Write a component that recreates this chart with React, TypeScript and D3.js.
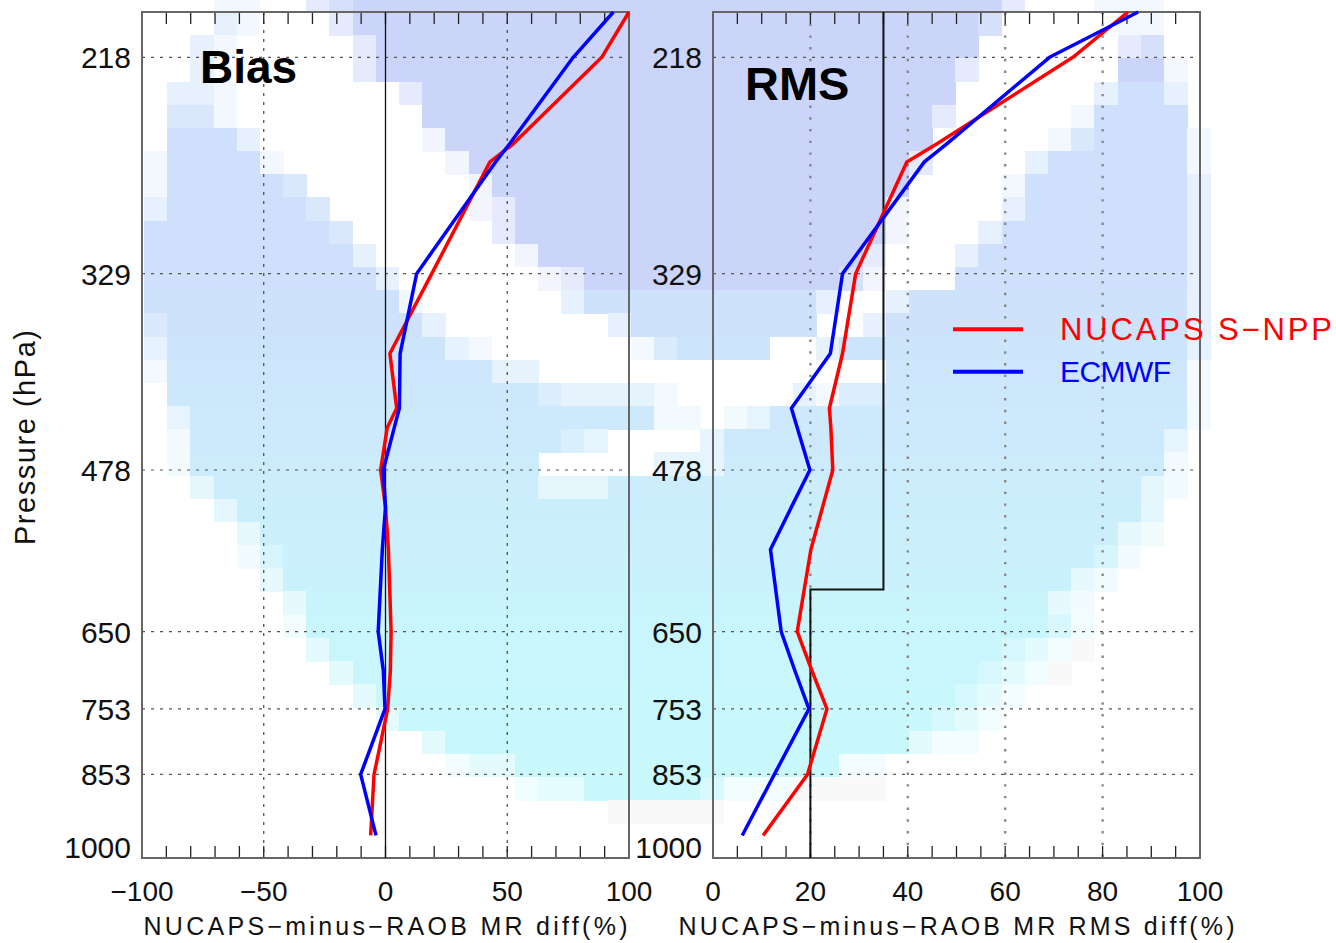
import * as d3 from "d3";

// pressure levels (hPa) at the profile vertices
const pressure = [200, 218, 257, 266, 329, 383, 425, 441, 478, 513, 556, 650, 700, 753, 853, 958];

// bias (%)
const biasNucaps = [100, 88.8, 52.5, 42.9, 19, 1.8, 4.6, 0.7, -2.0, 0, 1.2, 2.3, 2.0, 0.9, -4.7, -6.1];
const biasEcmwf = [93.6, 77.1, 51.0, 45.2, 12.8, 6.0, 5.7, 3.6, -0.9, 0, -1.3, -3.0, -0.9, -0.2, -10.2, -3.9];

// rms (%)
const rmsNucaps = [85.2, 73.9, 46.0, 39.8, 29.3, 26.6, 23.9, 24.2, 24.6, 22.5, 20.1, 17.3, 20.3, 23.4, 19.4, 10.3];
const rmsEcmwf = [87.3, 69.1, 48.0, 43.4, 26.6, 24.1, 16.1, 17.3, 19.9, 16.1, 11.8, 14.0, 16.8, 19.7, 12.6, 6.0];

// requirement step in the RMS panel
const requirementRms = [35, 35, 20, 20];
const requirementP = [200, 600, 600, 1000];

const pressureTicks = [218, 329, 478, 650, 753, 853, 1000];
const biasTicks = [-100, -50, 0, 50, 100];
const rmsTicks = [0, 20, 40, 60, 80, 100];

// background density image, run-length rows of 46 cells
// 0 = white, 1-4 = blue/cyan shade, a-d = lavender shade, g = faint gray
const backgroundRows = [
  "0:3 1:2 0:2 b:1 c:1 d:28 b:1 0:3 1:3 0:2",
  "0:3 2:1 1:1 0:3 b:1 d:27 c:1 0:5 1:2 0:2",
  "0:2 2:1 1:1 0:5 b:1 d:26 0:6 b:1 c:1 0:2",
  "0:2 2:1 0:6 b:1 d:25 b:1 0:6 d:2 1:1 0:1",
  "0:1 2:2 1:1 0:7 b:1 d:23 0:6 2:1 4:2 2:1 0:1",
  "0:1 3:2 1:1 0:8 d:22 b:1 0:5 1:1 4:4 0:1",
  "0:1 4:3 2:1 0:7 a:1 d:21 0:5 1:1 3:1 4:4 1:1",
  "1:1 4:4 1:1 0:7 a:1 d:19 b:1 0:4 2:1 4:6 1:1",
  "1:1 4:5 3:1 0:7 a:1 d:18 0:4 1:1 4:7 2:1",
  "2:1 4:6 3:1 0:6 a:1 b:1 d:16 a:1 0:4 2:1 4:7 2:1",
  "4:8 3:1 0:6 b:1 d:16 a:1 0:3 2:1 4:8 2:1",
  "4:9 2:1 0:6 a:1 d:14 b:1 0:3 2:1 4:9 2:1",
  "4:10 2:1 0:6 a:1 b:1 d:11 c:1 a:1 0:3 4:10 2:1",
  "4:11 1:1 0:6 2:1 4:10 2:1 0:2 2:1 4:12 2:1",
  "3:1 4:11 2:1 0:7 2:1 4:8 0:2 2:1 4:13 2:1",
  "2:1 4:12 2:1 1:1 0:6 1:1 3:1 4:4 0:2 2:1 4:15 2:1",
  "1:1 4:14 2:2 0:15 4:13 1:1",
  "0:1 4:16 3:1 2:4 1:1 0:5 2:1 1:1 3:2 4:13 1:1",
  "0:1 2:1 4:20 1:2 0:1 1:1 2:1 4:18 1:1",
  "0:1 1:1 4:16 3:1 2:1 0:4 2:1 4:19 2:1 0:1",
  "0:1 1:1 4:15 0:5 2:3 4:19 1:1 0:1",
  "0:2 2:1 4:14 2:3 4:23 2:1 1:1 0:1",
  "0:3 2:1 4:39 2:1 0:2",
  "0:4 2:1 4:37 2:1 1:1 0:2",
  "0:4 1:1 3:1 4:35 3:1 1:1 0:3",
  "0:5 2:1 4:34 2:1 1:1 0:4",
  "0:6 2:1 4:32 2:1 1:1 0:5",
  "0:6 1:1 4:32 3:1 1:1 0:5",
  "0:7 2:1 4:29 3:1 2:1 1:1 g:1 0:5",
  "0:8 2:1 4:27 3:1 2:1 1:1 g:1 0:6",
  "0:9 2:1 4:25 3:1 2:1 1:1 0:8",
  "0:10 2:1 4:23 3:1 2:1 1:1 0:9",
  "0:12 2:1 4:20 2:1 1:2 0:10",
  "0:13 1:1 2:2 4:14 1:2 0:14",
  "0:16 1:1 2:2 4:5 3:1 1:3 g:4 0:14",
  "0:20 g:5 0:21",
];

const FONT = "'Liberation Sans', Arial, Helvetica, sans-serif";
const RED = "#ff0000";
const BLUE = "#0000ff";

const y = d3.scaleLog([200, 1000], [12, 858]);

function Panel({ x, ticks, minorStep, labelX, dottedGrid, nucaps, ecmwf, title, titleLen, children }) {
  const [x0, x1] = x.range();
  const yTop = y(200);
  const yBot = y(1000);
  const [d0, d1] = x.domain();
  const minor = d3.range(d0, d1 + 0.001, minorStep);
  const line = d3
    .line<number>()
    .x((d) => x(d))
    .y((_, i) => y(pressure[i]));
  const gridX = ticks.slice(1, -1).filter((t) => t !== 0);
  return (
    <g>
      {pressureTicks
        .filter((p) => p !== 1000)
        .map((p) => (
          <line key={p} x1={x0} x2={x1} y1={y(p)} y2={y(p)} stroke="#555" strokeWidth={1.2} strokeDasharray="3 6" />
        ))}
      {gridX.map((t) =>
        dottedGrid ? (
          <line key={t} x1={x(t)} x2={x(t)} y1={yTop} y2={yBot} stroke="#888" strokeWidth={2.4} strokeDasharray="2.4 9.3" />
        ) : (
          <line key={t} x1={x(t)} x2={x(t)} y1={yTop} y2={yBot} stroke="#444" strokeWidth={1.2} strokeDasharray="3 6" />
        )
      )}
      {minor.map((t) => (
        <g key={t} stroke="#222" strokeWidth={1.3}>
          <line x1={x(t)} x2={x(t)} y1={yTop} y2={yTop + 12} />
          <line x1={x(t)} x2={x(t)} y1={yBot} y2={yBot - 12} />
        </g>
      ))}
      <rect x={x0} y={yTop} width={x1 - x0} height={yBot - yTop} fill="none" stroke="#666" strokeWidth={2} />
      {children}
      <path d={line(nucaps)} fill="none" stroke={RED} strokeWidth={3.5} strokeLinejoin="round" />
      <path d={line(ecmwf)} fill="none" stroke={BLUE} strokeWidth={3.5} strokeLinejoin="round" />
      <g fontFamily={FONT} fontSize={30} fill="#111" textAnchor="end">
        {pressureTicks.map((p) => (
          <text key={p} x={labelX} y={p === 1000 ? yBot : y(p) + 11}>
            {p}
          </text>
        ))}
      </g>
      <g fontFamily={FONT} fontSize={28} fill="#111" textAnchor="middle">
        {ticks.map((t) => (
          <text key={t} x={x(t)} y={901}>
            {t < 0 ? "\u2212" + Math.abs(t) : t}
          </text>
        ))}
      </g>
      <text
        x={(x0 + x1) / 2}
        y={935}
        fontFamily={FONT}
        fontSize={25}
        fill="#111"
        textAnchor="middle"
        textLength={titleLen}
        lengthAdjust="spacing"
      >
        {title}
      </text>
    </g>
  );
}

export default function App() {
  const xBias = d3.scaleLinear([-100, 100], [142, 629]);
  const xRms = d3.scaleLinear([0, 100], [713, 1200]);

  // background grid
  const gx = d3.scaleLinear([0, 46], [144, 1210.3]);
  const gy = d3.scaleLinear([0, 36], [-11.2, 823.3]);
  const hue = d3
    .scaleLinear<string>()
    .domain([0, 12, 16, 20, 24, 28, 35])
    .range(["#cee0fb", "#cee0fb", "#cde6fb", "#ccebfb", "#caf1fc", "#c8f6fc", "#c8f8fc"])
    .interpolate(d3.interpolateRgb);
  const shade = (c: string, r: number) => {
    if (c === "g") return "#f9f9f9";
    const lav = "abcd".indexOf(c);
    if (lav >= 0) return d3.interpolateRgb("#ffffff", "#cad5f9")((lav + 1) / 4);
    return d3.interpolateRgb("#ffffff", hue(r))(+c / 4);
  };
  const cells = backgroundRows.flatMap((row, r) => {
    const chars = row.split(" ").flatMap((tok) => {
      const [c, n] = tok.split(":");
      return Array(+n).fill(c);
    });
    return chars.map((c, k) => ({ r, k, c })).filter((d) => d.c !== "0");
  });

  const stepLine = d3
    .line<number>()
    .x((d) => xRms(d))
    .y((_, i) => y(requirementP[i]));

  return (
    <svg width={1336} height={943} style={{ position: "absolute", left: 0, top: 0, background: "#fff" }}>
      <g shapeRendering="crispEdges">
        {cells.map((d) => (
          <rect
            key={d.r + "-" + d.k}
            x={gx(d.k)}
            y={gy(d.r)}
            width={gx(d.k + 1) - gx(d.k) + 0.5}
            height={gy(d.r + 1) - gy(d.r) + 0.5}
            fill={shade(d.c, d.r)}
          />
        ))}
      </g>

      <Panel
        x={xBias}
        ticks={biasTicks}
        minorStep={10}
        labelX={131}
        dottedGrid={false}
        nucaps={biasNucaps}
        ecmwf={biasEcmwf}
        title={"NUCAPS\u2212minus\u2212RAOB MR diff(%)"}
        titleLen={484}
      >
        <line x1={xBias(0)} x2={xBias(0)} y1={y(200)} y2={y(1000)} stroke="#111" strokeWidth={1.3} />
      </Panel>

      <Panel
        x={xRms}
        ticks={rmsTicks}
        minorStep={5}
        labelX={702}
        dottedGrid={true}
        nucaps={rmsNucaps}
        ecmwf={rmsEcmwf}
        title={"NUCAPS\u2212minus\u2212RAOB MR RMS diff(%)"}
        titleLen={556}
      >
        <path d={stepLine(requirementRms)} fill="none" stroke="#111" strokeWidth={2} />
      </Panel>

      <text x={200} y={83} fontFamily={FONT} fontWeight="bold" fontSize={46} fill="#000">
        Bias
      </text>
      <text x={745} y={99.5} fontFamily={FONT} fontWeight="bold" fontSize={47} fill="#000">
        RMS
      </text>

      <text
        transform="translate(35,437.5) rotate(-90)"
        fontFamily={FONT}
        fontSize={29}
        fill="#111"
        textAnchor="middle"
        textLength={215}
        lengthAdjust="spacing"
      >
        Pressure (hPa)
      </text>

      <g>
        <line x1={953} x2={1023} y1={329.3} y2={329.3} stroke={RED} strokeWidth={4} />
        <line x1={953} x2={1023} y1={371.7} y2={371.7} stroke={BLUE} strokeWidth={4} />
        <text x={1060} y={340} fontFamily={FONT} fontSize={31} fill={RED} textLength={272} lengthAdjust="spacing">
          NUCAPS S{"\u2212"}NPP
        </text>
        <text x={1060} y={382} fontFamily={FONT} fontSize={30} fill={BLUE} textLength={111} lengthAdjust="spacing">
          ECMWF
        </text>
      </g>
    </svg>
  );
}
